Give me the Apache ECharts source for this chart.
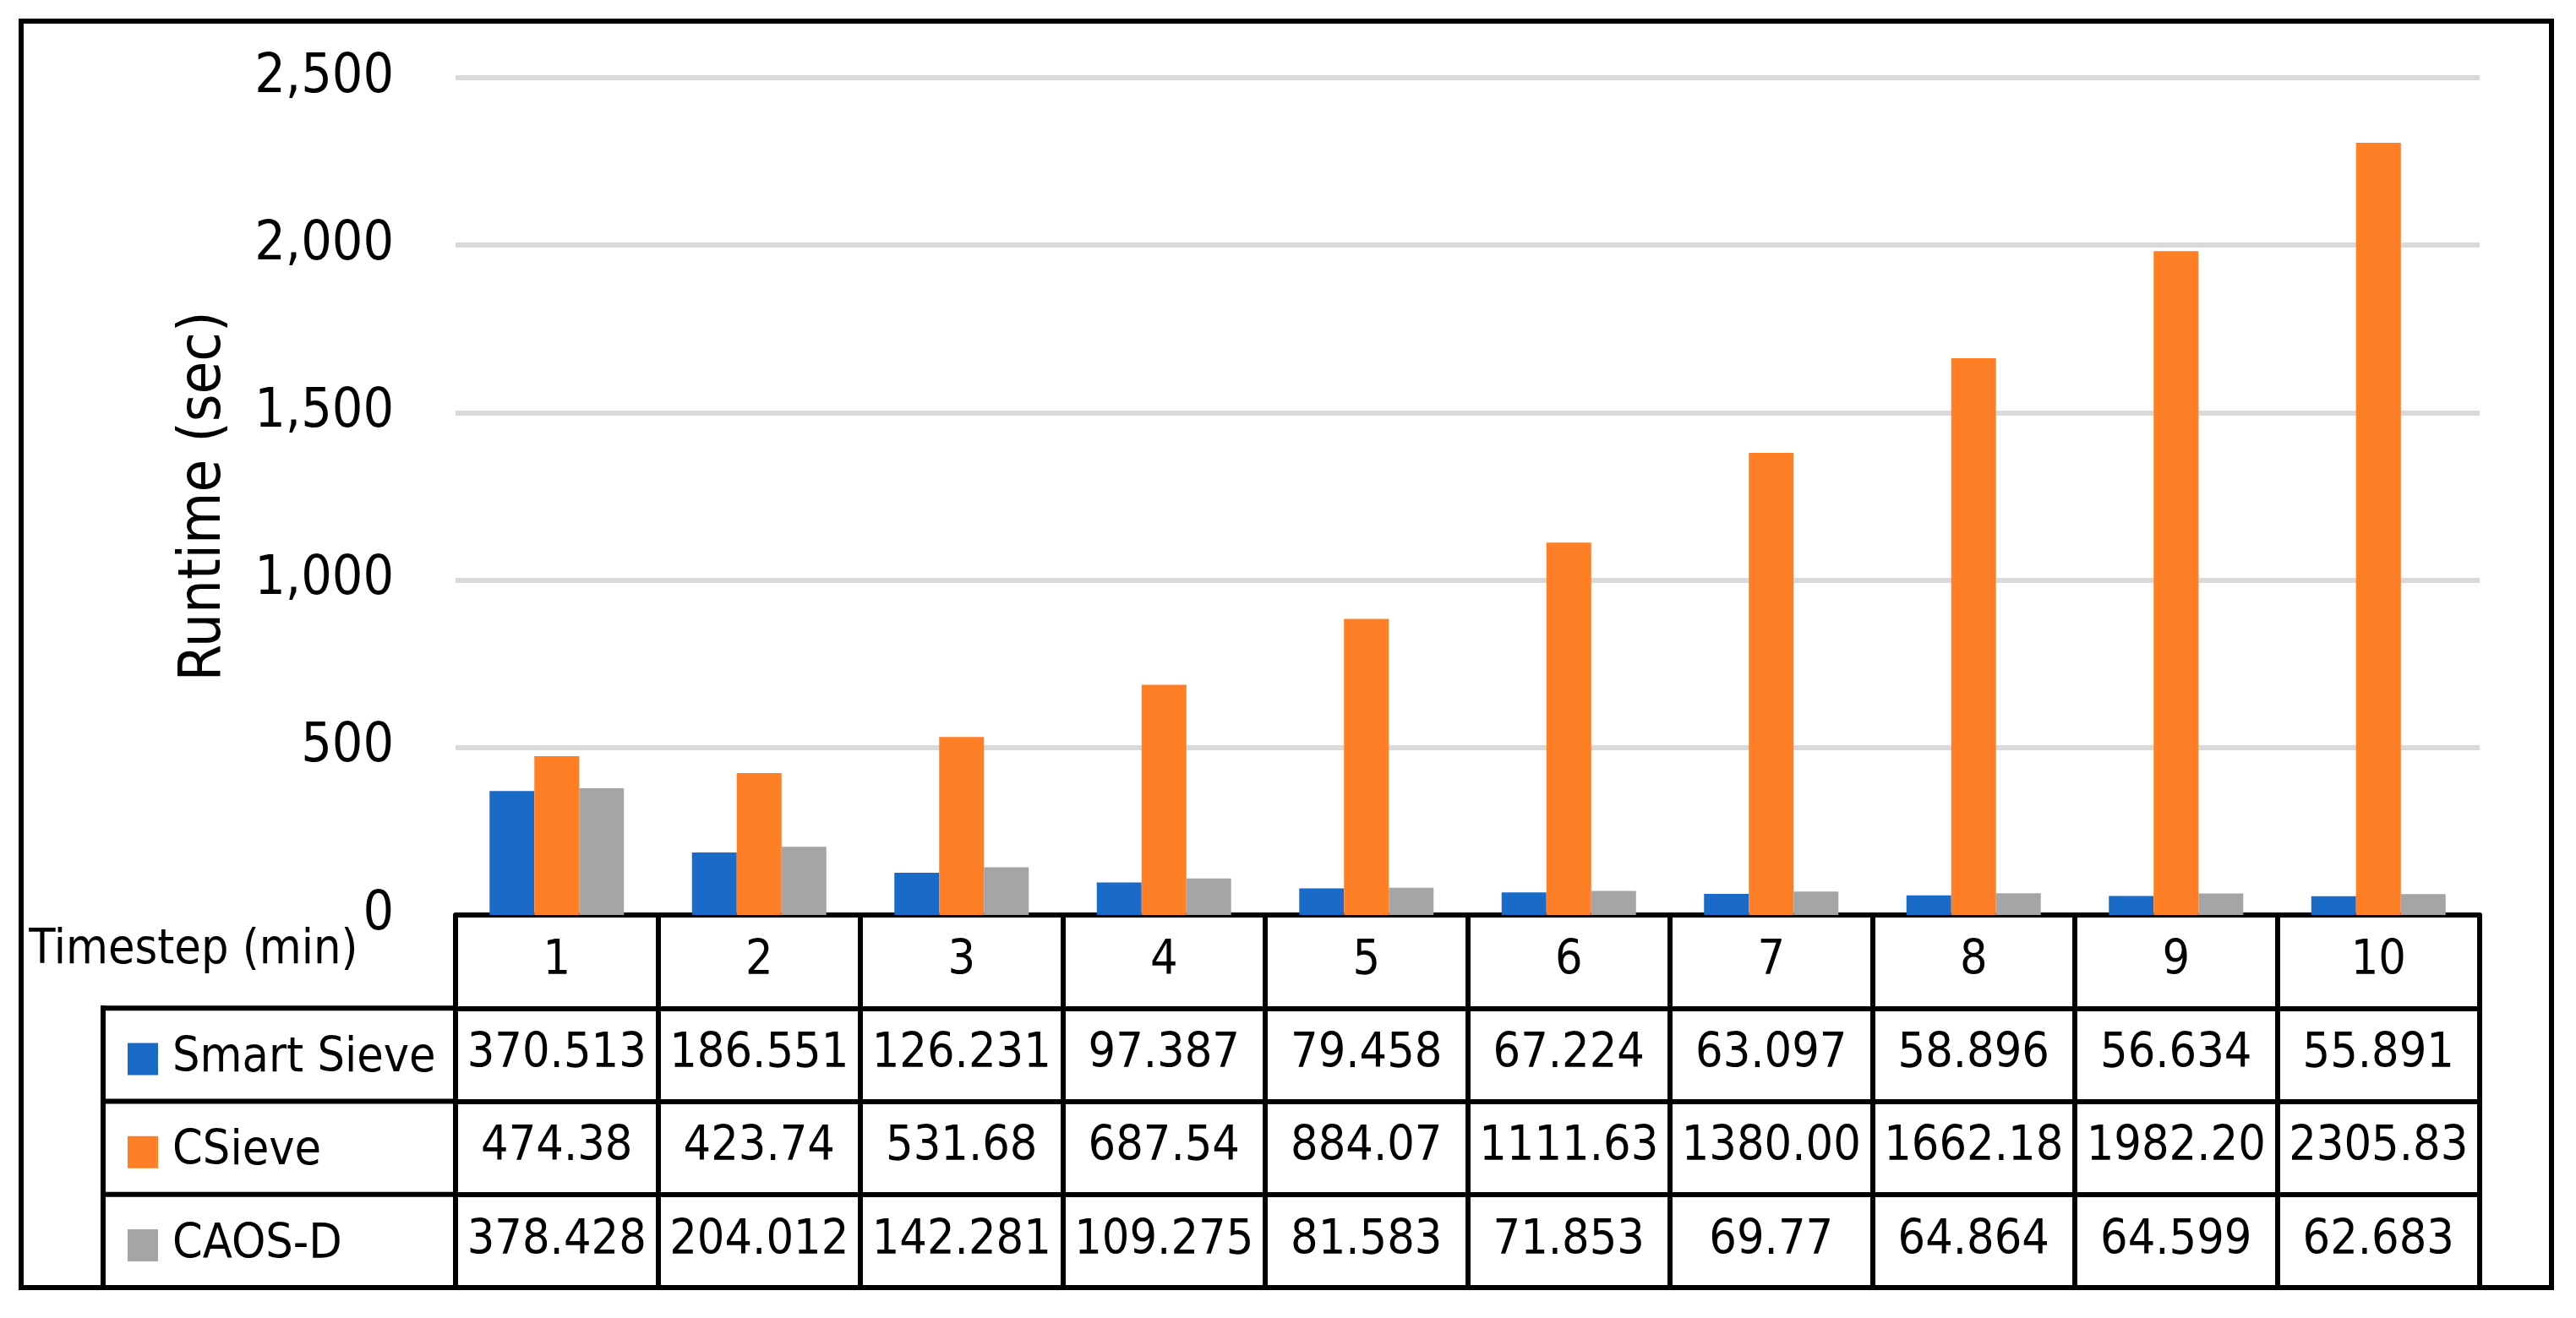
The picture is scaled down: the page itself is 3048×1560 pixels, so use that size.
<!DOCTYPE html>
<html>
<head>
<meta charset="utf-8">
<script src="https://cdn.jsdelivr.net/npm/echarts@6/dist/echarts.min.js"></script>
<style>
html,body{margin:0;padding:0;background:#fff;}
#chart{width:3048px;height:1560px;}
</style>
</head>
<body>
<div id="chart"></div>
<script>
// ---- data ----
const categories = ['1','2','3','4','5','6','7','8','9','10'];
const seriesNames = ['Smart Sieve','CSieve','CAOS-D'];
const smartSieve = [370.513,186.551,126.231,97.387,79.458,67.224,63.097,58.896,56.634,55.891];
const cSieve = [474.38,423.74,531.68,687.54,884.07,1111.63,1380.00,1662.18,1982.20,2305.83];
const caosD = [378.428,204.012,142.281,109.275,81.583,71.853,69.77,64.864,64.599,62.683];
const yTicks = [0,500,1000,1500,2000,2500];

// table label text (as printed in the data table)
const smartSieveText = smartSieve.map(v => v.toFixed(3));
const cSieveText = cSieve.map(v => v.toFixed(2));
const caosDText = caosD.map(v => String(v));

// ---- layout / style ----
const FONT = "'DejaVu Sans Condensed','Liberation Sans Narrow','DejaVu Sans',sans-serif";
const colors = ['#1A6BC7','#FF7F27','#A5A5A5'];
const W = 3048, H = 1560;
const gridLeft = 539, gridRight = 114, gridTop = 92, gridBottom = 477;
const axisY = H - gridBottom;          // 1083
const rowH = 110.25;
const lineW = 6;
const tableFont = 57;

const chart = echarts.init(document.getElementById('chart'), null, {renderer:'canvas'});

function tableAxis(data, idx, extra) {
  return Object.assign({
    type: 'category',
    data: data,
    gridIndex: 0,
    position: 'bottom',
    offset: rowH * idx,
    boundaryGap: true,
    axisLine: {show: true, lineStyle: {color: '#000', width: lineW}},
    axisTick: {show: true, length: rowH, inside: false, alignWithLabel: false,
               lineStyle: {color: '#000', width: lineW}},
    axisLabel: {show: true, interval: 0, margin: rowH / 2, verticalAlign: 'middle',
                color: '#000', fontFamily: FONT, fontSize: tableFont},
    splitLine: {show: false}
  }, extra || {});
}

const option = {
  backgroundColor: '#fff',
  animation: false,
  color: colors,
  grid: {left: gridLeft, right: gridRight, top: gridTop, bottom: gridBottom, containLabel: false},
  legend: {
    show: true,
    orient: 'vertical',
    left: 146,
    top: axisY + rowH + rowH / 2 - 30,
    itemWidth: 36,
    itemHeight: 38,
    itemGap: rowH - 60,
    icon: 'rect',
    selectedMode: false,
    data: seriesNames,
    textStyle: {color: '#000', fontFamily: FONT, fontSize: tableFont, lineHeight: 60,
                padding: [0, 0, 0, 12]}
  },
  xAxis: [
    tableAxis(categories, 0, {
      name: 'Timestep (min)',
      nameLocation: 'start',
      nameGap: 30,
      nameTextStyle: {color: '#000', fontFamily: FONT, fontSize: tableFont,
                      align: 'right', verticalAlign: 'top', padding: [14, 0, 0, 0]}
    }),
    tableAxis(smartSieveText, 1),
    tableAxis(cSieveText, 2),
    tableAxis(caosDText, 3)
  ],
  yAxis: {
    type: 'value',
    min: yTicks[0],
    max: yTicks[yTicks.length - 1],
    interval: yTicks[1] - yTicks[0],
    name: 'Runtime (sec)',
    nameLocation: 'middle',
    nameGap: 262,
    nameTextStyle: {color: '#000', fontFamily: FONT, fontSize: 70},
    axisLine: {show: false},
    axisTick: {show: false},
    axisLabel: {margin: 73, color: '#000', fontFamily: FONT, fontSize: 64,
                formatter: v => v.toLocaleString('en-US')},
    splitLine: {show: true, lineStyle: {color: '#D9D9D9', width: 6}}
  },
  series: [
    {name: seriesNames[0], type: 'bar', data: smartSieve, barWidth: 53, barGap: '0%', xAxisIndex: 0},
    {name: seriesNames[1], type: 'bar', data: cSieve, barWidth: 53, barGap: '0%', xAxisIndex: 0},
    {name: seriesNames[2], type: 'bar', data: caosD, barWidth: 53, barGap: '0%', xAxisIndex: 0}
  ],
  graphic: [
    // outer frame
    {type: 'rect', shape: {x: 25, y: 25, width: 2994, height: axisY + rowH * 4 - 25},
     style: {fill: null, stroke: '#000', lineWidth: lineW}, z: 100},
    // legend column frame lines
    {type: 'line', shape: {x1: 122, y1: axisY + rowH - lineW / 2, x2: 122, y2: axisY + rowH * 4},
     style: {stroke: '#000', lineWidth: lineW}, z: 100},
    {type: 'line', shape: {x1: 122 - lineW / 2, y1: axisY + rowH, x2: gridLeft, y2: axisY + rowH},
     style: {stroke: '#000', lineWidth: lineW}, z: 100},
    {type: 'line', shape: {x1: 122, y1: axisY + rowH * 2, x2: gridLeft, y2: axisY + rowH * 2},
     style: {stroke: '#000', lineWidth: lineW}, z: 100},
    {type: 'line', shape: {x1: 122, y1: axisY + rowH * 3, x2: gridLeft, y2: axisY + rowH * 3},
     style: {stroke: '#000', lineWidth: lineW}, z: 100}
  ]
};
chart.setOption(option);
</script>
</body>
</html>
